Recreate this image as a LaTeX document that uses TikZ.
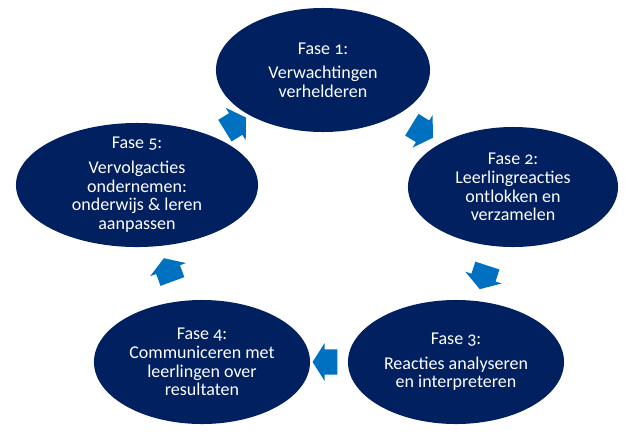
\documentclass[tikz,border=0pt]{standalone}
\usepackage{fontspec}
\setmainfont{Carlito}[Numbers=OldStyle]
\usepackage{xcolor}
\usepackage{tikz}
\usetikzlibrary{shapes.geometric,shapes.arrows}
\definecolor{fasenavy}{HTML}{002060}
\definecolor{faseblue}{HTML}{0070C0}
\tikzset{every node/.append style={scale=1}}
\begin{document}
\begin{tikzpicture}
			[x=0.025cm, y=-0.025cm,
				font=\fontsize{12.8}{13.4}\selectfont,
				% STYLES
				% The phase style is used to draw the five phases of the cycle
				phase/.style={ellipse, fill=fasenavy, text=white, inner xsep=0pt,
						inner ysep=-6pt, minimum width=5.35cm, minimum height=3.1cm,
						align=center},
				% The turn style is used to draw the block arrows between phases
				turn/.style={single arrow, fill=faseblue, inner xsep=0pt,
						inner ysep=0.31cm, minimum height=0.62cm,
						single arrow head extend=0.16cm, single arrow tip angle=115,
						sloped, allow upside down}]
			\useasboundingbox (0,0) rectangle (639,443);

			% Draw phases
			\node [phase] (a) at (323,70) {Fase 1:\\[4pt] Verwachtingen\\
				verhelderen};
			\node [phase, minimum width=5.25cm, minimum height=3cm] (b) at (513,187)
			{Fase 2:\\ Leerlingreacties\\ ontlokken en\\ verzamelen};
			\node [phase, minimum width=5.4cm] (c) at (456,362) {Fase 3:\\[4pt]
				Reacties analyseren\\ en interpreteren};
			\node [phase, minimum width=5.4cm] (d) at (202,362) {Fase 4:\\
				Communiceren met\\ leerlingen over\\ resultaten};
			\node [phase, minimum width=6.05cm] (e) at (137,185) {Fase 5:\\[4pt]
				Vervolgacties\\ ondernemen:\\ onderwijs \& leren\\ aanpassen};

			% Draw arrows
			\path
			(a) -- node [turn] {} (b)
			(b) -- node [turn] {} (c)
			(c) -- node [turn] {} (d)
			(d) -- node [turn] {} (e)
			(e) -- node [turn] {} (a);

		\end{tikzpicture}
\end{document}
